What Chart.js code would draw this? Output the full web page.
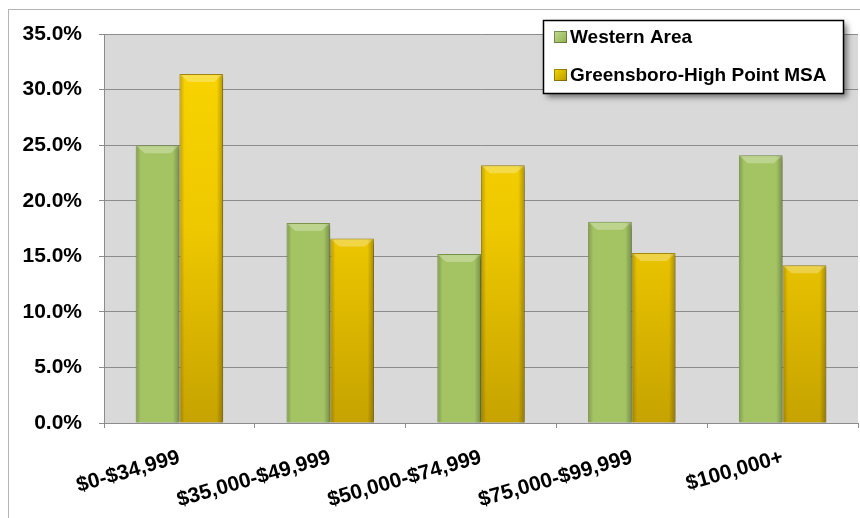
<!DOCTYPE html>
<html>
<head>
<meta charset="utf-8">
<script src="https://cdn.jsdelivr.net/npm/chart.js@4/dist/chart.umd.min.js"></script>
<style>
    html, body { margin: 0; padding: 0; background: #fff; }
    #wrap { width: 860px; height: 518px; }
</style>
</head>
<body>
<div id="wrap"><canvas id="incomeChart" width="860" height="518"></canvas></div>
<script>
// household income distribution, percent of households
var incomeBands = ['$0-$34,999', '$35,000-$49,999', '$50,000-$74,999', '$75,000-$99,999', '$100,000+'];
var westernArea = [25.0, 18.0, 15.2, 18.1, 24.1];
var greensboroMsa = [31.4, 16.6, 23.2, 15.3, 14.2];
var seriesNames = ['Western Area', 'Greensboro-High Point MSA'];
var yMin = 0, yMax = 35, yStep = 5;

var fontFamily = 'Liberation Sans, Arial, sans-serif';
var gridGray = '#8c8c8c';

function yellowFill(c) {
    var area = c.chart.chartArea;
    if (!area) return '#e8c200';
    var g = c.chart.ctx.createLinearGradient(0, area.top, 0, area.bottom);
    g.addColorStop(0, '#fad600');
    g.addColorStop(0.5, '#eec800');
    g.addColorStop(1, '#c6a300');
    return g;
}

// outer frame + grey plot background
var frame = {
    id: 'frame',
    beforeDraw: function (chart) {
        var ctx = chart.ctx, a = chart.chartArea;
        ctx.save();
        ctx.strokeStyle = '#b4b4b4';
        ctx.lineWidth = 1;
        ctx.strokeRect(8.5, 9.5, 900, 600);
        ctx.fillStyle = '#d9d9d9';
        ctx.fillRect(a.left, a.top, a.right - a.left, a.bottom - a.top);
        ctx.restore();
    }
};

// soft shadow under bars, then edge shading and a bevel on top
var barShade = {
    id: 'barShade',
    beforeDatasetsDraw: function (chart) {
        var ctx = chart.ctx;
        ctx.save();
        ctx.shadowColor = 'rgba(0,0,0,0.35)';
        ctx.shadowBlur = 5;
        ctx.shadowOffsetX = 3;
        ctx.shadowOffsetY = 2;
    },
    afterDatasetsDraw: function (chart) {
        var ctx = chart.ctx;
        ctx.restore();
        ctx.save();
        chart.data.datasets.forEach(function (ds, di) {
            chart.getDatasetMeta(di).data.forEach(function (bar) {
                var p = bar.getProps(['x', 'y', 'base', 'width'], true);
                var l = p.x - p.width / 2, r = p.x + p.width / 2;
                var g = ctx.createLinearGradient(l, 0, r, 0);
                g.addColorStop(0, 'rgba(0,0,0,0.22)');
                g.addColorStop(0.12, 'rgba(0,0,0,0)');
                g.addColorStop(0.85, 'rgba(0,0,0,0)');
                g.addColorStop(1, 'rgba(0,0,0,0.28)');
                ctx.fillStyle = g;
                ctx.fillRect(l + 1, p.y + 1, p.width - 2, p.base - p.y - 1);
                // bevel
                var b = 8;
                ctx.beginPath();
                ctx.moveTo(l + 1, p.y + 1);
                ctx.lineTo(r - 1, p.y + 1);
                ctx.lineTo(r - 1 - b, p.y + b);
                ctx.lineTo(l + 1 + b, p.y + b);
                ctx.closePath();
                ctx.fillStyle = 'rgba(255,255,255,0.28)';
                ctx.fill();
            });
        });
        ctx.restore();
    }
};

// boxed legend sitting over the top right of the plot
var boxLegend = {
    id: 'boxLegend',
    afterDraw: function (chart) {
        var ctx = chart.ctx, a = chart.chartArea;
        var w = 300, h = 73;
        var x = a.right - 15 - w, y = 20;
        ctx.save();
        ctx.shadowColor = 'rgba(0,0,0,0.5)';
        ctx.shadowBlur = 6;
        ctx.shadowOffsetX = 4;
        ctx.shadowOffsetY = 4;
        ctx.fillStyle = '#fff';
        ctx.fillRect(x, y, w, h);
        ctx.restore();
        ctx.save();
        ctx.strokeStyle = '#000';
        ctx.lineWidth = 1.5;
        ctx.strokeRect(x + 0.5, y + 0.5, w, h);
        ctx.font = 'bold 19px ' + fontFamily;
        ctx.textBaseline = 'middle';
        var swatch = [['#c4dc90', '#8fb04c'], ['#f4d800', '#b89800']];
        chart.data.datasets.forEach(function (ds, i) {
            var cy = y + 17 + i * 38;
            var g = ctx.createLinearGradient(x + 11, cy - 6, x + 24, cy + 6);
            g.addColorStop(0, swatch[i][0]);
            g.addColorStop(1, swatch[i][1]);
            ctx.fillStyle = g;
            ctx.fillRect(x + 11, cy - 6, 13, 12);
            ctx.strokeStyle = 'rgba(0,0,0,0.35)';
            ctx.lineWidth = 1;
            ctx.strokeRect(x + 11.5, cy - 5.5, 12, 11);
            ctx.fillStyle = '#000';
            ctx.fillText(ds.label, x + 27, cy + 1);
        });
        ctx.restore();
    }
};

new Chart(document.getElementById('incomeChart'), {
    type: 'bar',
    data: {
        labels: incomeBands,
        datasets: [
            {
                label: seriesNames[0],
                data: westernArea,
                backgroundColor: '#a4c464',
                borderColor: '#7f9a4c',
                borderWidth: 1,
                categoryPercentage: 0.58,
                barPercentage: 1.0
            },
            {
                label: seriesNames[1],
                data: greensboroMsa,
                backgroundColor: yellowFill,
                borderColor: '#a88c10',
                borderWidth: 1,
                categoryPercentage: 0.58,
                barPercentage: 1.0
            }
        ]
    },
    options: {
        responsive: false,
        animation: false,
        layout: { padding: { top: 34, left: 8, right: 2, bottom: 0 } },
        plugins: {
            legend: { display: false },
            tooltip: { enabled: false }
        },
        scales: {
            x: {
                afterFit: function (s) { s.height = 95; },
                grid: { drawOnChartArea: false, color: gridGray, tickLength: 5 },
                border: { color: gridGray },
                ticks: {
                    color: '#000',
                    font: { family: fontFamily, size: 21, weight: 'bold' },
                    minRotation: 16,
                    maxRotation: 16,
                    padding: 17
                }
            },
            y: {
                min: yMin,
                max: yMax,
                afterFit: function (s) { s.width = 96; },
                grid: { color: gridGray, tickLength: 5 },
                border: { color: gridGray },
                ticks: {
                    stepSize: yStep,
                    color: '#000',
                    font: { family: fontFamily, size: 21, weight: 'bold' },
                    padding: 17,
                    callback: function (v) { return v.toFixed(1) + '%'; }
                }
            }
        }
    },
    plugins: [frame, barShade, boxLegend]
});
</script>
</body>
</html>
